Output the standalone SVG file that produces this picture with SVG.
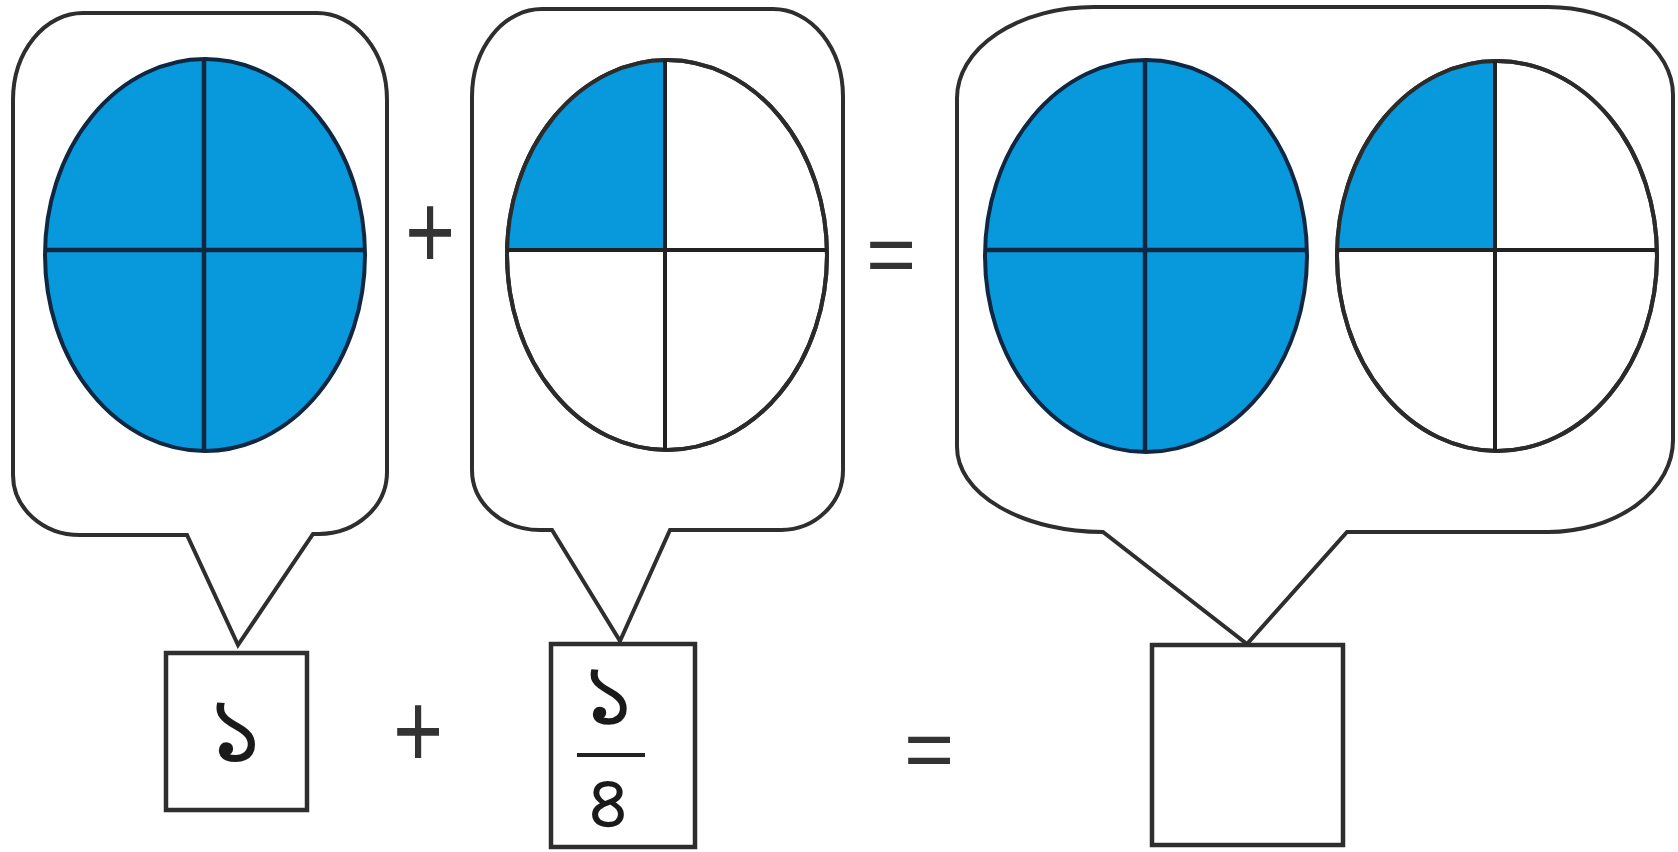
<svg xmlns="http://www.w3.org/2000/svg" width="1678" height="852" viewBox="0 0 1678 852">
<style>
.callout{fill:#fff;stroke:#2e2e2e;stroke-width:4;stroke-linejoin:miter}
.box{fill:#fff;stroke:#2e2e2e;stroke-width:4.5}
.ell{stroke:#2b2b2b;stroke-width:4}
.ellb{stroke:#0f2740;stroke-width:4}
.blue{fill:#0899dc}
.div{stroke:#222;stroke-width:4}
.divb{stroke:#0f2740;stroke-width:4.5}
.op{font-family:"Liberation Sans",Arial,sans-serif;fill:#333;text-anchor:middle}
.num{font-family:"Noto Sans Bengali","Noto Sans","DejaVu Sans",sans-serif;fill:#1a1a1a;text-anchor:middle}
</style>
<rect width="1678" height="852" fill="#fff"/>

<g id="callout1">
<path class="callout" d="M 83 13 H 317 A 70 87 0 0 1 387 100 V 472 A 68 62 0 0 1 319 534 H 313 L 238 645 L 187 535 H 80 A 67 60 0 0 1 13 475 V 100 A 70 87 0 0 1 83 13 Z"/>
<ellipse class="blue ellb" cx="205" cy="255" rx="160" ry="196"/>
<line class="divb" x1="204" y1="59" x2="204" y2="451"/>
<line class="divb" x1="45" y1="250" x2="365" y2="250"/>
</g>

<g id="callout2">
<path class="callout" d="M 542 9 H 773 A 70 88 0 0 1 843 97 V 470 A 62 60 0 0 1 781 530 H 670 L 620 641 L 552 530 H 540 A 68 60 0 0 1 472 470 V 97 A 70 88 0 0 1 542 9 Z"/>
<ellipse class="ell" cx="667" cy="255" rx="160" ry="195" fill="#fff"/>
<path class="blue" d="M 665 250 H 507.5 A 160 195 0 0 1 665 60 Z"/>
<ellipse cx="667" cy="255" rx="160" ry="195" fill="none" stroke="#2b2b2b" stroke-width="4"/>
<line class="div" x1="665" y1="60" x2="665" y2="450"/>
<line class="div" x1="507" y1="250" x2="827" y2="250"/>
</g>

<g id="callout3">
<path class="callout" d="M 1094 7 H 1548 A 125 88 0 0 1 1673 95 V 440 A 125 92 0 0 1 1548 532 H 1347 L 1247 644 L 1103 532 A 146 85 0 0 1 957 447 V 98 A 137 91 0 0 1 1094 7 Z"/>
<ellipse class="blue ellb" cx="1146" cy="256" rx="161" ry="196"/>
<line class="divb" x1="1145" y1="60" x2="1145" y2="452"/>
<line class="divb" x1="985" y1="250" x2="1307" y2="250"/>
<ellipse class="ell" cx="1497" cy="256" rx="160" ry="195" fill="#fff"/>
<path class="blue" d="M 1495 250 H 1338 A 160 195 0 0 1 1495 61 Z"/>
<ellipse cx="1497" cy="256" rx="160" ry="195" fill="none" stroke="#2b2b2b" stroke-width="4"/>
<line class="div" x1="1495" y1="61" x2="1495" y2="451"/>
<line class="div" x1="1337" y1="250" x2="1657" y2="250"/>
</g>

<g id="operators">
<text class="op" x="430" y="264" font-size="86" transform="translate(0,-62) scale(1,1.25)">+</text>
<text class="op" x="891" y="283" font-size="86">=</text>
<text class="op" x="418" y="766" font-size="86" transform="translate(0,-190) scale(1,1.25)">+</text>
<text class="op" x="929" y="778" font-size="86">=</text>
</g>

<g id="box1">
<rect class="box" x="166" y="653" width="141" height="157"/>
<text class="num" x="235" y="762" font-size="94">১</text>
</g>

<g id="box2">
<rect class="box" x="551" y="644" width="144" height="203"/>
<text class="num" x="608" y="725" font-size="88">১</text>
<line class="div" x1="577" y1="755" x2="645" y2="755"/>
<text class="num" x="608" y="827" font-size="74">৪</text>
</g>

<g id="box3">
<rect class="box" x="1152" y="645" width="191" height="200"/>
</g>
</svg>
